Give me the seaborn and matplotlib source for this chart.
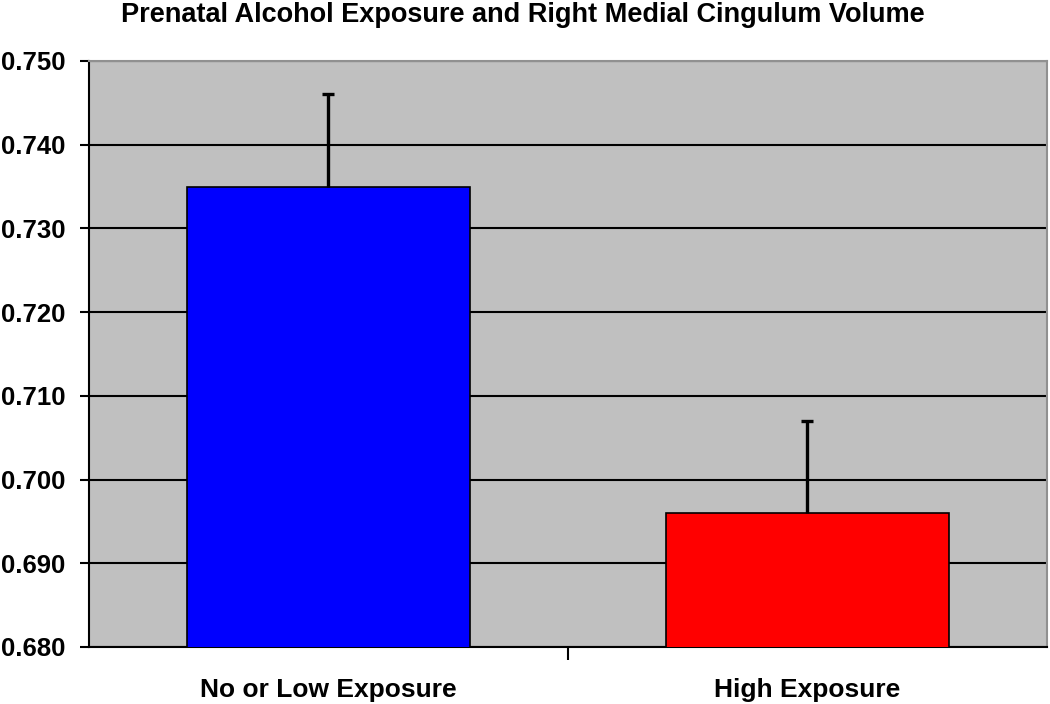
import seaborn as sns
import pandas as pd
import matplotlib.pyplot as plt

# values
groups = ['No or Low Exposure', 'High Exposure']
volume = [0.735, 0.696]
err_up = [0.011, 0.011]
bar_colors = ['#0000FF', '#FF0000']

df = pd.DataFrame({'group': groups, 'volume': volume})

sns.set_style('ticks')
plt.rcParams['font.family'] = ['Liberation Sans', 'DejaVu Sans']
plt.rcParams['text.color'] = 'black'
plt.rcParams['xtick.color'] = 'black'
plt.rcParams['ytick.color'] = 'black'

fig = plt.figure(figsize=(10.5, 7.04), dpi=100)
ax = fig.add_axes([0.0848, 0.081, 0.9122, 0.8324])
ax.set_facecolor('#C0C0C0')

sns.barplot(data=df, x='group', y='volume', hue='group', palette=bar_colors,
            saturation=1, width=0.59, edgecolor='black', linewidth=1.2,
            errorbar=None, legend=False, ax=ax, zorder=3)

# one-sided error bars (upper only), drop the lower cap
xs = [p.get_x() + p.get_width() / 2 for p in ax.patches]
eb = ax.errorbar(xs, volume, yerr=[[0, 0], err_up], fmt='none', ecolor='black',
                 elinewidth=2.4, capsize=4, capthick=2.4, zorder=4)
eb.lines[1][0].set_visible(False)

ax.set_ylim(0.680, 0.750)
ax.set_yticks([0.68 + 0.01 * i for i in range(8)])
ax.set_yticklabels([f'{0.68 + 0.01 * i:.3f}' for i in range(8)])
ax.yaxis.grid(True, color='black', linewidth=1.5, zorder=1)
ax.set_axisbelow(True)

ax.set_xlim(-0.5, 1.5)
ax.set_xticks([0, 1])
ax.set_xticklabels(groups)
ax.tick_params(axis='x', length=0, pad=22, labelsize=19, labelcolor='black')
ax.tick_params(axis='y', length=6.5, width=1.5, direction='out', pad=10.5,
               labelsize=18.5, labelcolor='black')
for lbl in ax.get_xticklabels() + ax.get_yticklabels():
    lbl.set_fontweight('bold')

# divider tick between categories
ax.set_xticks([0.5], minor=True)
ax.tick_params(axis='x', which='minor', length=9, width=1.5, direction='out')

ax.set_xlabel('')
ax.set_ylabel('')
for side in ['left', 'bottom']:
    ax.spines[side].set_color('black')
    ax.spines[side].set_linewidth(1.5)
for side in ['top', 'right']:
    ax.spines[side].set_visible(True)
    ax.spines[side].set_color('#909090')
    ax.spines[side].set_linewidth(1.5)

fig.text(0.498, 0.997, 'Prenatal Alcohol Exposure and Right Medial Cingulum Volume',
         ha='center', va='top', fontsize=19.5, fontweight='bold', color='black')

fig.savefig('out.png', dpi=100, facecolor='white')
